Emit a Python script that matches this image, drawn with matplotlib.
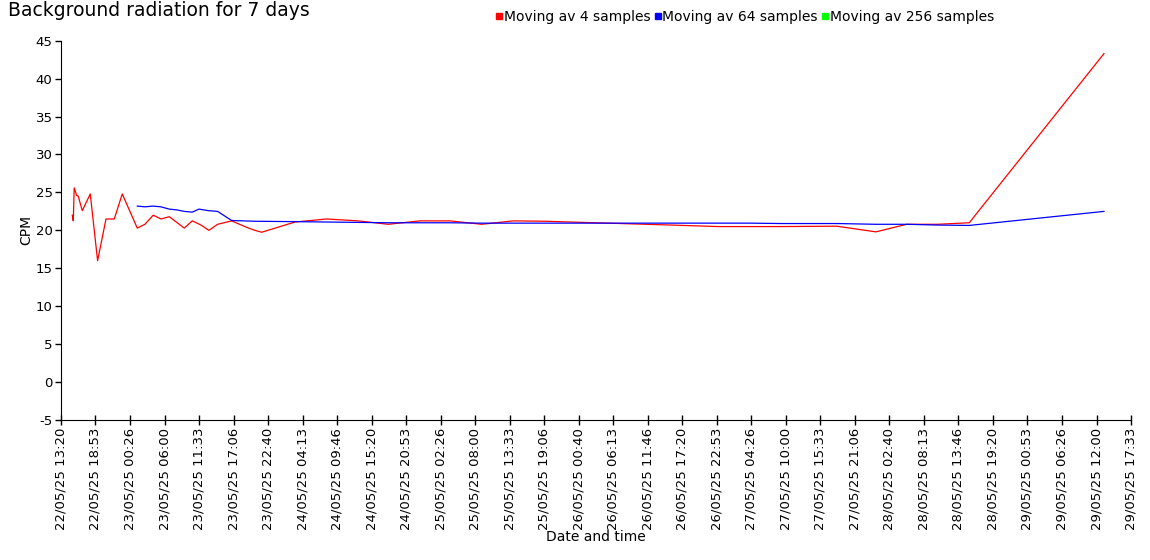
import numpy as np
import pandas as pd
import matplotlib
matplotlib.use('Agg')
import matplotlib.pyplot as plt
import matplotlib.dates as mdates

plt.rcParams['axes.unicode_minus'] = False

# Moving average 4 samples
red_times = [
    '2025-05-22 15:09', '2025-05-22 15:19', '2025-05-22 15:28', '2025-05-22 15:52',
    '2025-05-22 16:07', '2025-05-22 16:46', '2025-05-22 18:03', '2025-05-22 19:14',
    '2025-05-22 20:35', '2025-05-22 21:55', '2025-05-22 23:12', '2025-05-23 01:37',
    '2025-05-23 02:51', '2025-05-23 04:11', '2025-05-23 05:26', '2025-05-23 06:46',
    '2025-05-23 09:11', '2025-05-23 10:28', '2025-05-23 11:52', '2025-05-23 13:09',
    '2025-05-23 14:33', '2025-05-23 16:48', '2025-05-23 19:13', '2025-05-23 20:33',
    '2025-05-23 21:38', '2025-05-24 03:00', '2025-05-24 08:06', '2025-05-24 13:11',
    '2025-05-24 18:00', '2025-05-24 23:07', '2025-05-25 03:56', '2025-05-25 09:02',
    '2025-05-25 14:08', '2025-05-25 19:13', '2025-05-26 05:22', '2025-05-26 15:30',
    '2025-05-26 23:04', '2025-05-27 04:13', '2025-05-27 09:12', '2025-05-27 18:10',
    '2025-05-28 00:30', '2025-05-28 05:26', '2025-05-28 10:22', '2025-05-28 15:31',
    '2025-05-29 13:12',
]
red_cpm = [
    22.0, 21.25, 25.6, 24.6, 24.5, 22.6, 24.8, 16.0,
    21.5, 21.5, 24.8, 20.3, 20.8, 22.0, 21.5, 21.8,
    20.3, 21.25, 20.7, 20.0, 20.8, 21.25, 20.4, 20.0,
    19.75, 21.1, 21.5, 21.25, 20.8, 21.25, 21.25, 20.8,
    21.25, 21.2, 20.95, 20.7, 20.5, 20.5, 20.5, 20.55,
    19.8, 20.8, 20.8, 21.0, 43.3,
]

# Moving average 64 samples
blue_times = [
    '2025-05-23 01:37', '2025-05-23 02:51', '2025-05-23 04:11', '2025-05-23 05:26',
    '2025-05-23 06:46', '2025-05-23 07:57', '2025-05-23 09:11', '2025-05-23 10:28',
    '2025-05-23 11:33', '2025-05-23 13:02', '2025-05-23 14:33', '2025-05-23 16:48',
    '2025-05-23 20:33', '2025-05-24 03:00', '2025-05-24 08:06', '2025-05-24 13:11',
    '2025-05-24 18:00', '2025-05-24 23:07', '2025-05-25 03:56', '2025-05-25 09:02',
    '2025-05-25 14:08', '2025-05-25 19:13', '2025-05-26 05:22', '2025-05-26 15:30',
    '2025-05-27 04:13', '2025-05-27 09:12', '2025-05-27 18:10', '2025-05-28 00:30',
    '2025-05-28 05:26', '2025-05-28 10:22', '2025-05-28 15:31', '2025-05-29 13:12',
]
blue_cpm = [
    23.2, 23.1, 23.2, 23.1, 22.8, 22.7, 22.5, 22.4,
    22.8, 22.6, 22.5, 21.3, 21.2, 21.15, 21.1, 21.05,
    21.0, 21.0, 21.0, 20.95, 20.95, 20.95, 20.95, 20.95,
    20.95, 20.9, 20.9, 20.8, 20.8, 20.7, 20.65, 22.5,
]

# Moving average 256 samples (no points in this window)
green_times = []
green_cpm = []

x_start = pd.Timestamp('2025-05-22 13:20:00')
x_end = pd.Timestamp('2025-05-29 17:33:20')
n_ticks = 32

fig = plt.figure(figsize=(11.5, 5.6), dpi=100)
ax = fig.add_axes([0.053, 0.25, 0.9305, 0.6773])

ax.plot(pd.to_datetime(red_times), red_cpm, color='#ff0000', lw=0.9)
ax.plot(pd.to_datetime(blue_times), blue_cpm, color='#0000ff', lw=0.9)
ax.plot(pd.to_datetime(green_times), green_cpm, color='#00ff00', lw=0.9)

ax.set_xlim(x_start, x_end)
ax.set_ylim(-5, 45)
ax.set_yticks(np.arange(-5, 46, 5))

ticks = pd.date_range(x_start, x_end, periods=n_ticks)
ax.set_xticks(ticks)
ax.xaxis.set_major_formatter(mdates.DateFormatter('%d/%m/%y %H:%M'))
plt.setp(ax.get_xticklabels(), rotation=90)

ax.tick_params(axis='x', direction='inout', length=7, width=1, labelsize=9.5, pad=2)
ax.tick_params(axis='y', direction='out', length=4, width=1, labelsize=9.5, pad=2)
ax.spines['top'].set_visible(False)
ax.spines['right'].set_visible(False)

ax.set_xlabel('Date and time', fontsize=10, labelpad=0)
ax.set_ylabel('CPM', fontsize=10, labelpad=2)

fig.text(0.007, 0.998, 'Background radiation for 7 days', fontsize=13.5,
         va='top', ha='left')

legend_items = [('Moving av 4 samples', '#ff0000'),
                ('Moving av 64 samples', '#0000ff'),
                ('Moving av 256 samples', '#00ff00')]
handles = [plt.Line2D([], [], ls='none', marker='s', markersize=4, color=c) for _, c in legend_items]
fig.legend(handles, [t for t, _ in legend_items], loc='center', bbox_to_anchor=(0.648, 0.969),
           ncol=3, frameon=False, fontsize=10, handlelength=0.4, handletextpad=0.15,
           columnspacing=0.3, borderpad=0)

fig.savefig('out.png', dpi=100)
